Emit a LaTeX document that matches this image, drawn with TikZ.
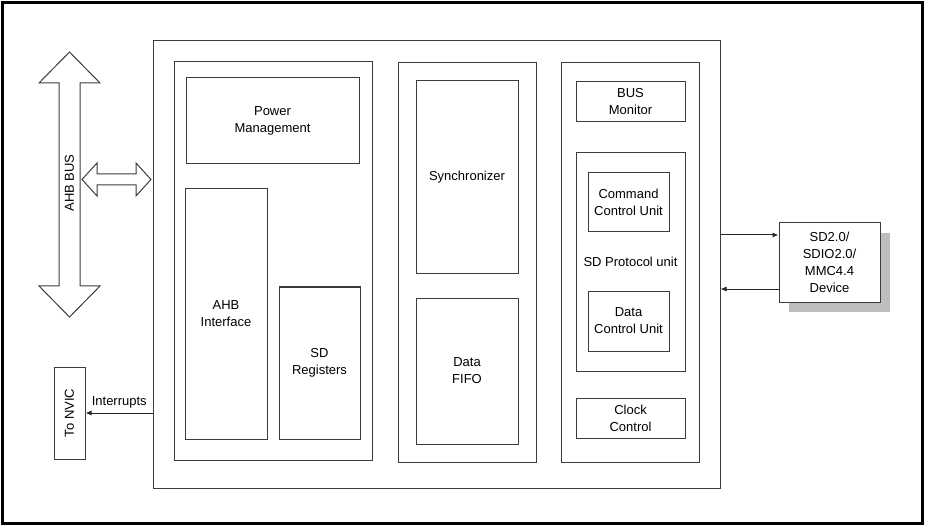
\documentclass[tikz,border=0pt]{standalone}
\usepackage{fontspec}
\setmainfont{Liberation Sans}
\usetikzlibrary{fit,arrows.meta}
\definecolor{linec}{RGB}{60,60,60}
\definecolor{shadowc}{RGB}{190,190,190}
\tikzset{
  blk/.style={draw=linec, line width=1pt, inner sep=0pt, fill=white},
  txt/.style={inner sep=0pt, align=center, font=\fontsize{13}{17}\selectfont},
  conn/.style={draw=black!85, line width=1pt, -{Latex[length=6pt,width=5pt]}},
  fat/.style={draw=linec, line width=1pt, fill=white, line join=miter}
}
\begin{document}
\begin{tikzpicture}[x=1pt,y=-1pt]
\useasboundingbox (0,0) rectangle (925,526);
\draw[line width=3pt] (2.5,2.5) rectangle (922.5,523.5);

% main block and columns
\node[blk, fit={(153.5,41) (720,488)}] (main) {};
\node[blk, fit={(174,62) (372,460)}] (colL) {};
\node[blk, fit={(398,63) (536,462)}] (colM) {};
\node[blk, fit={(561,63) (699,462)}] (colR) {};

% left column
\node[blk, fit={(186,78) (359,164)}] (pm) {};
\node[txt] at (pm.center) {Power\\Management};
\node[blk, fit={(185,189) (267,439)}] (ahbi) {};
\node[txt] at (ahbi.center) {AHB\\Interface};
\node[blk, fit={(279,287) (360,439)}] (sdr) {};
\node[txt] at (sdr.center) {SD\\Registers};

% middle column
\node[blk, fit={(416,81) (518,274)}] (sync) {};
\node[txt] at (sync.center) {Synchronizer};
\node[blk, fit={(416,298) (518,444)}] (fifo) {};
\node[txt] at (fifo.center) {Data\\FIFO};

% right column
\node[blk, fit={(576,82) (685,122)}] (busm) {};
\node[txt] at (busm.center) {BUS\\Monitor};
\node[blk, fit={(576,153) (685,371)}] (sdp) {};
\node[txt] at (sdp.center) {SD Protocol unit};
\node[blk, fit={(588,173) (669,232)}] (ccu) {};
\node[txt] at (ccu.center) {Command\\Control Unit};
\node[blk, fit={(588,291) (669,351)}] (dcu) {};
\node[txt] at (dcu.center) {Data\\Control Unit};
\node[blk, fit={(576,398) (685,438)}] (clk) {};
\node[txt] at (clk.center) {Clock\\Control};

% device with shadow
\fill[shadowc] (789,233) rectangle (890,312);
\node[blk, fit={(779,223) (880,302)}] (dev) {};
\node[txt] at (dev.center) {SD2.0/\\SDIO2.0/\\MMC4.4\\Device};
\coordinate (d1) at (main.east |- 0,235);
\coordinate (d2) at (main.east |- 0,289);
\draw[conn] (d1) -- (dev.west |- d1);
\draw[conn] (dev.west |- d2) -- (d2);

% To NVIC
\node[blk, fit={(54,367) (85,459)}] (nvic) {};
\node[txt, rotate=90] at (nvic.center) {To NVIC};
\coordinate (ir) at (main.west |- nvic.east);
\draw[conn] (ir) -- node[txt, above=4pt] {Interrupts} (nvic.east);

% AHB bus big double arrow
\draw[fat] (69.5,52) -- (100,83) -- (80,83) -- (80,286) -- (100,286) -- (69.5,317)
  -- (39,286) -- (59,286) -- (59,83) -- (39,83) -- cycle;
\node[txt, rotate=90] (ahbbus) at (69.5,183) {AHB BUS};

% small double arrow to main block
\draw[fat] (82,179.5) -- (97,163) -- (97,174) -- (136,174) -- (136,163) -- (151,179.5)
  -- (136,196) -- (136,185) -- (97,185) -- (97,196) -- cycle;
\end{tikzpicture}
\end{document}
